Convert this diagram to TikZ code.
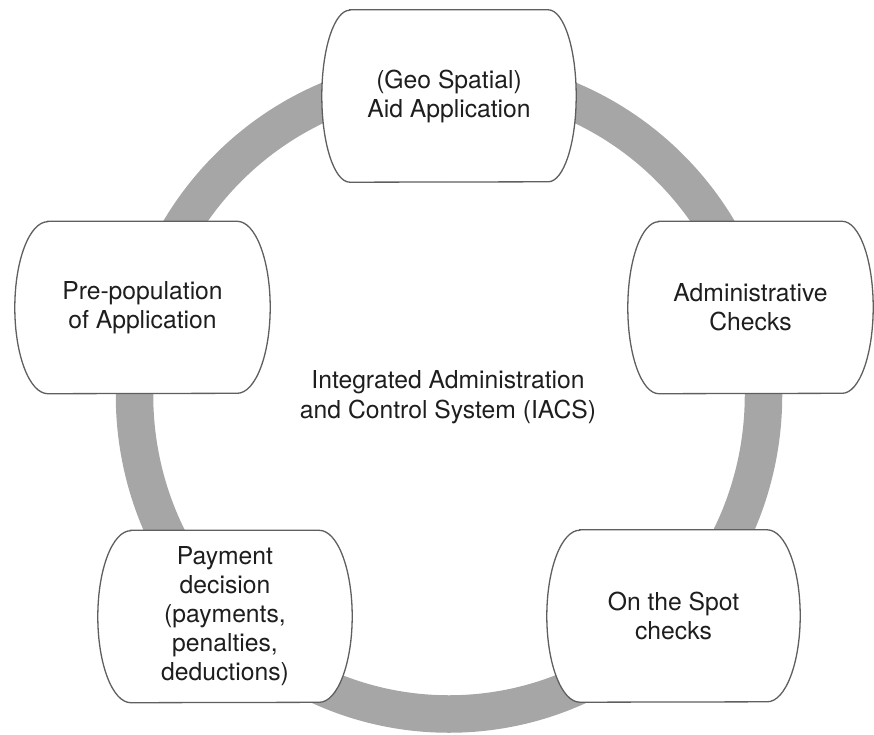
\documentclass[tikz,border=0pt]{standalone}
\usepackage{fontspec}
\setmainfont{TeX Gyre Heros}
\definecolor{ringgray}{RGB}{166,166,166}
\definecolor{edgegray}{RGB}{95,95,95}
\definecolor{txt}{RGB}{30,30,30}
\pgfdeclarelayer{ringlayer}
\pgfdeclarelayer{boxlayer}
\pgfsetlayers{ringlayer,boxlayer,main}
\tikzset{
  boxtext/.style={inner sep=0pt, align=center, text=txt,
    font=\fontsize{24.7}{29}\selectfont, minimum height=172pt},
  boxline/.style={draw=edgegray, line width=1.3pt, fill=white},
  ringstroke/.style={draw=ringgray, line width=37.5pt},
  centertext/.style={inner sep=0pt, align=center, text=txt,
    font=\fontsize{24.7}{30}\selectfont},
}
\newcommand\bulgebox[2]{%
  \begin{pgfonlayer}{boxlayer}
  \path[boxline] ([xshift=#2]#1.north west) -- ([xshift=-#2]#1.north east)
    arc[start angle=90,end angle=-90,x radius=#2,y radius=86pt]
    -- ([xshift=#2]#1.south west)
    arc[start angle=270,end angle=90,x radius=#2,y radius=86pt] -- cycle;
  \end{pgfonlayer}}
\begin{document}
\begin{tikzpicture}[x=1pt,y=-1pt]
  \useasboundingbox (0,0) rectangle (874,735);
  \begin{pgfonlayer}{ringlayer}
    \path[ringstroke] (449,395) ellipse[x radius=314.5pt, y radius=319pt];
  \end{pgfonlayer}
  \node[boxtext, minimum width=254pt] (aid) at (449,96) {(Geo Spatial)\\Aid Application};
  \bulgebox{aid}{28pt}
  \node[boxtext, minimum width=245pt] (adm) at (750.5,307.5) {Administrative\\Checks};
  \bulgebox{adm}{31pt}
  \node[boxtext, minimum width=255pt] (pre) at (142.5,307.5) {Pre-population\\of Application};
  \bulgebox{pre}{33pt}
  \node[boxtext, minimum width=254pt] (pay) at (225,616.5) {Payment\\decision\\(payments,\\penalties,\\deductions)};
  \bulgebox{pay}{33pt}
  \node[boxtext, minimum width=253pt] (spot) at (673.5,616) {On the Spot\\checks};
  \bulgebox{spot}{33pt}
  \node[centertext] (iacs) at (448,397) {Integrated Administration\\and Control System (IACS)};
\end{tikzpicture}
\end{document}
